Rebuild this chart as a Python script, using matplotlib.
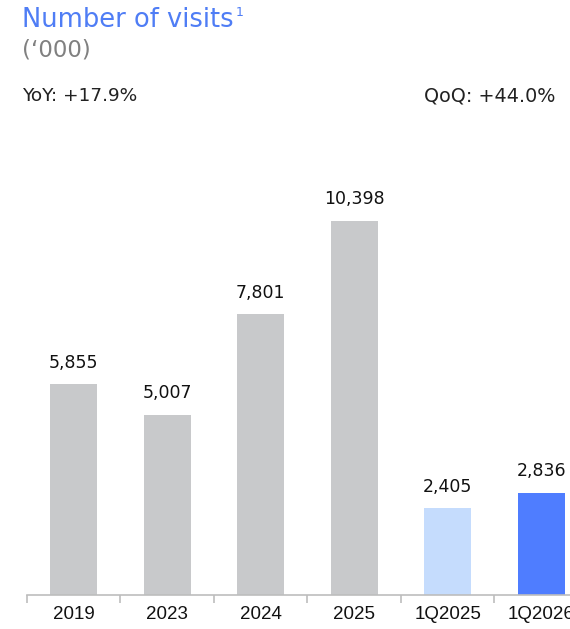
import matplotlib
matplotlib.use("Agg")
import matplotlib.pyplot as plt
import numpy as np

categories = ["2019", "2023", "2024", "2025", "1Q2025", "1Q2026"]
visits = [5855, 5007, 7801, 10398, 2405, 2836]
bar_colors = ["#C8C9CB", "#C8C9CB", "#C8C9CB", "#C8C9CB", "#C5DCFD", "#4F7DFF"]

fig = plt.figure(figsize=(5.7, 6.29), dpi=100)
# axes runs a bit past the right edge so the last label gets clipped
ax = fig.add_axes([27/570, 34/629, 561/570, 465/629])

x = np.arange(len(categories))
ax.bar(x, visits, width=0.5, color=bar_colors)
ax.set_xlim(-0.5, len(categories) - 0.5)
ax.set_ylim(0, 465 / (374 / 10398))

for xi, v in zip(x, visits):
    ax.annotate(f"{v:,}", (xi, v), xytext=(0, 9), textcoords="offset points",
                ha="center", va="bottom", fontsize=12.5, color="#111111",
                family="DejaVu Sans")

for s in ["left", "right", "top"]:
    ax.spines[s].set_visible(False)
ax.spines["bottom"].set_color("#BDBDBD")
ax.spines["bottom"].set_linewidth(1.2)
ax.set_yticks([])

ax.set_xticks(x)
ax.set_xticklabels(categories, fontsize=13.5, family="Liberation Sans", color="#111111")
ax.tick_params(axis="x", which="major", length=0, pad=8)
ax.set_xticks(np.arange(len(categories)) - 0.5, minor=True)
ax.tick_params(axis="x", which="minor", length=6, width=1.2, color="#BDBDBD")

title = fig.text(22/570, 1 - 20/629, "Number of visits", fontsize=18.5, color="#4F7DF5",
                 va="center", ha="left", family="DejaVu Sans")
# footnote marker right after the title
fig.canvas.draw()
bb = title.get_window_extent(fig.canvas.get_renderer())
fig.text(bb.x1 / fig.bbox.width + 2/570, 1 - 13/629, "1", fontsize=9, color="#4F7DF5",
         va="center", ha="left", family="DejaVu Sans")
fig.text(22/570, 1 - 50/629, "(\u2018000)", fontsize=16.5, color="#808080",
         va="center", ha="left", family="DejaVu Sans")
fig.text(22/570, 1 - 96/629, "YoY: +17.9%", fontsize=13.3, color="#222222",
         va="center", ha="left", family="DejaVu Sans")
fig.text(555/570, 1 - 96/629, "QoQ: +44.0%", fontsize=13.8, color="#222222",
         va="center", ha="right", family="DejaVu Sans")

fig.savefig("out.png", dpi=100)
